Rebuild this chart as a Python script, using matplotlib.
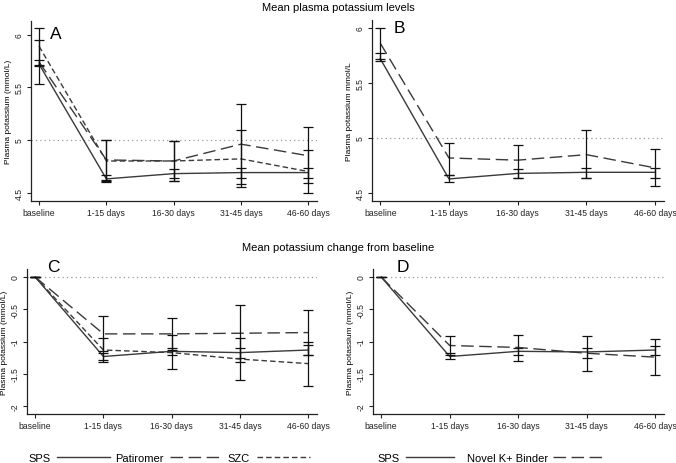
import matplotlib
matplotlib.use("Agg")
import matplotlib.pyplot as plt
from matplotlib.lines import Line2D

plt.rcParams['font.family'] = ['Liberation Sans', 'DejaVu Sans']

# Categories
periods = ["baseline", "1-15 days", "16-30 days", "31-45 days", "46-60 days"]

# Panel A: mean plasma potassium (mean, lower CI, upper CI)
a_sps = [5.72, 4.63, 4.68, 4.69, 4.69]
a_sps_lo = [5.70, 4.60, 4.64, 4.64, 4.64]
a_sps_hi = [5.76, 4.67, 4.72, 4.73, 4.73]
a_pat = [5.74, 4.81, 4.80, 4.96, 4.85]
a_pat_lo = [5.53, 4.62, 4.61, 4.58, 4.59]
a_pat_hi = [5.95, 5.00, 4.99, 5.34, 5.12]
a_szc = [5.89, 4.80, 4.80, 4.82, 4.70]
a_szc_lo = [5.71, 4.61, 4.61, 4.55, 4.50]
a_szc_hi = [6.06, 5.00, 4.99, 5.09, 4.90]

# Panel B: SPS vs novel binder
b_sps = [5.72, 4.63, 4.68, 4.69, 4.69]
b_sps_lo = [5.70, 4.60, 4.64, 4.64, 4.64]
b_sps_hi = [5.77, 4.67, 4.72, 4.73, 4.73]
b_nov = [5.86, 4.82, 4.80, 4.85, 4.73]
b_nov_lo = [5.72, 4.67, 4.64, 4.64, 4.57]
b_nov_hi = [6.00, 4.96, 4.94, 5.07, 4.90]

# Panel C: change from baseline
c_sps = [0, -1.23, -1.15, -1.17, -1.13]
c_sps_lo = [0, -1.28, -1.21, -1.26, -1.21]
c_sps_hi = [0, -1.18, -1.10, -1.10, -1.05]
c_pat = [0, -0.88, -0.88, -0.87, -0.86]
c_pat_lo = [0, -1.15, -1.13, -1.31, -1.21]
c_pat_hi = [0, -0.61, -0.63, -0.43, -0.51]
c_szc = [0, -1.13, -1.17, -1.27, -1.34]
c_szc_lo = [0, -1.31, -1.43, -1.60, -1.68]
c_szc_hi = [0, -0.95, -0.90, -0.94, -1.00]

# Panel D: change from baseline, SPS vs novel binder
d_sps = [0, -1.23, -1.15, -1.16, -1.13]
d_sps_lo = [0, -1.27, -1.21, -1.26, -1.21]
d_sps_hi = [0, -1.18, -1.10, -1.10, -1.06]
d_nov = [0, -1.06, -1.09, -1.18, -1.24]
d_nov_lo = [0, -1.21, -1.30, -1.45, -1.51]
d_nov_hi = [0, -0.91, -0.89, -0.91, -0.96]

W, H = 676, 464
fig = plt.figure(figsize=(W / 100, H / 100), dpi=100)

SOLID = dict(color='#3a3a3a', lw=1.0, ls='-')
LONG = dict(color='#3a3a3a', lw=1.0, ls=(0, (9, 4)))
SHORT = dict(color='#3a3a3a', lw=1.0, ls=(0, (4, 2.2)))


def rect(l, r, t, b):
    return [l / W, 1 - b / H, (r - l) / W, (b - t) / H]


def series(ax, x, m, lo, hi, style):
    ax.plot(x, m, **style)
    err = [[mi - l for mi, l in zip(m, lo)], [h - mi for mi, h in zip(m, hi)]]
    ax.errorbar(x, m, yerr=err, fmt='none', ecolor='#111111', elinewidth=0.9,
                capsize=3.5, capthick=0.9)


def setup(ax, ylim, yticks, ylabels, ref, ylabel, letter, lx, ly):
    x = list(range(len(periods)))
    ax.set_xlim(-0.12, 4.13)
    ax.set_ylim(*ylim)
    ax.set_xticks(x)
    ax.set_xticklabels(periods, fontsize=6.2)
    ax.set_yticks(yticks)
    ax.set_yticklabels(ylabels, fontsize=6.2, rotation=90, va='center')
    ax.set_ylabel(ylabel, fontsize=6, labelpad=2)
    for s in ['top', 'right']:
        ax.spines[s].set_visible(False)
    for s in ['left', 'bottom']:
        ax.spines[s].set_linewidth(0.9)
        ax.spines[s].set_color('#222222')
    ax.tick_params(length=3, width=0.8, pad=2, colors='#222222')
    ax.axhline(ref, color='#999999', lw=0.9, ls=(0, (1, 2.5)), zorder=0)
    ax.text(lx, ly, letter, transform=ax.transAxes, fontsize=12.5, va='center', ha='left')


x = list(range(len(periods)))

axA = fig.add_axes(rect(31, 317, 22, 202))
series(axA, x, a_sps, a_sps_lo, a_sps_hi, SOLID)
series(axA, x, a_pat, a_pat_lo, a_pat_hi, LONG)
series(axA, x, a_szc, a_szc_lo, a_szc_hi, SHORT)
setup(axA, (4.42, 6.13), [4.5, 5, 5.5, 6], ["4.5", "5", "5.5", "6"], 5,
      "Plasma potassium (mmol/L)", "A", 0.065, 0.93)

axB = fig.add_axes(rect(372, 664, 21, 202))
series(axB, x, b_sps, b_sps_lo, b_sps_hi, SOLID)
series(axB, x, b_nov, b_nov_lo, b_nov_hi, LONG)
setup(axB, (4.43, 6.07), [4.5, 5, 5.5, 6], ["4.5", "5", "5.5", "6"], 5,
      "Plasma potassium mmol/L", "B", 0.075, 0.96)

axC = fig.add_axes(rect(27, 317, 270, 415))
series(axC, x, c_sps, c_sps_lo, c_sps_hi, SOLID)
series(axC, x, c_pat, c_pat_lo, c_pat_hi, LONG)
series(axC, x, c_szc, c_szc_lo, c_szc_hi, SHORT)
setup(axC, (-2.12, 0.124), [0, -0.5, -1, -1.5, -2], ["0", "-0.5", "-1", "-1.5", "-2"], 0,
      "Plasma potassium (mmol/L)", "C", 0.07, 1.02)

axD = fig.add_axes(rect(373, 664, 270, 415))
series(axD, x, d_sps, d_sps_lo, d_sps_hi, SOLID)
series(axD, x, d_nov, d_nov_lo, d_nov_hi, LONG)
setup(axD, (-2.12, 0.124), [0, -0.5, -1, -1.5, -2], ["0", "-0.5", "-1", "-1.5", "-2"], 0,
      "Plasma potassium (mmol/L)", "D", 0.08, 1.02)

fig.text(338 / W, 1 - 8 / H, "Mean plasma potassium levels", ha='center', va='center', fontsize=8)
fig.text(338 / W, 1 - 248 / H, "Mean potassium change from baseline", ha='center', va='center', fontsize=8)

# Legends
hC = [Line2D([], [], **SOLID), Line2D([], [], **LONG), Line2D([], [], **SHORT)]
fig.legend(hC, ["SPS", "Patiromer", "SZC"], loc='center', bbox_to_anchor=(169 / W, 1 - 459 / H),
           ncol=3, frameon=False, markerfirst=False, fontsize=8, handlelength=4.8,
           handletextpad=0.6, columnspacing=0.4, borderpad=0)
hD = [Line2D([], [], **SOLID), Line2D([], [], **LONG)]
fig.legend(hD, ["SPS", "Novel K+ Binder"], loc='center', bbox_to_anchor=(490 / W, 1 - 459 / H),
           ncol=2, frameon=False, markerfirst=False, fontsize=8, handlelength=4.4,
           handletextpad=0.5, columnspacing=1.1, borderpad=0)

fig.savefig("out.png", dpi=100)
